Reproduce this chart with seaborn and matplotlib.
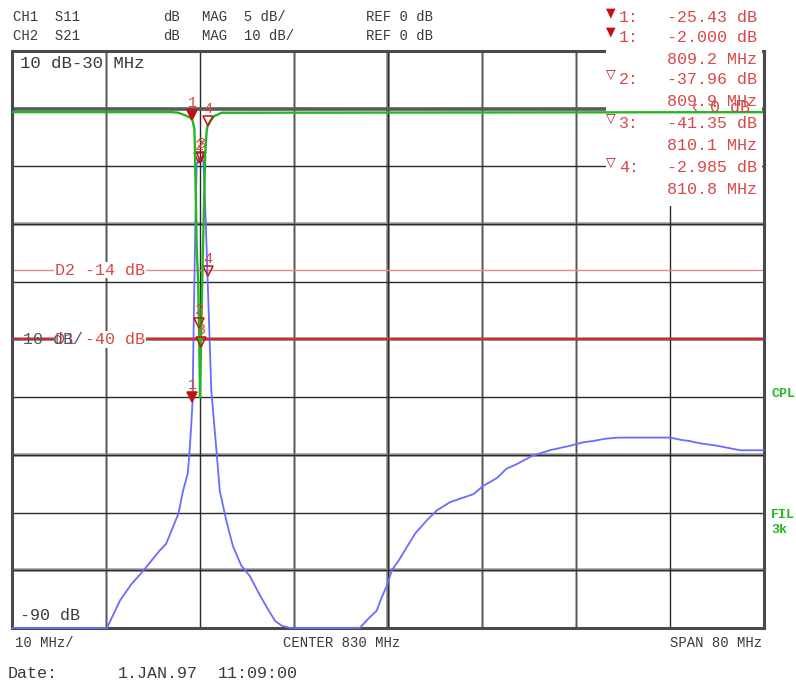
import numpy as np
import pandas as pd
import matplotlib
matplotlib.use("Agg")
import matplotlib.pyplot as plt
import matplotlib.transforms as mtrans
from matplotlib.patches import Rectangle
from matplotlib.lines import Line2D
import seaborn as sns

# ---------------- data ----------------
freq_range = (790.0, 870.0)          # MHz, 10 MHz/div, center 830
ch1_range = (-45.0, 5.0)             # CH1 S11, 5 dB/div, ref 0 dB
ch2_range = (-90.0, 10.0)            # CH2 S21, 10 dB/div, ref 0 dB

s11_freq = [790.0, 800.1, 801.5, 802.7, 803.8, 804.7, 805.7, 806.4, 807.1, 807.7,
            808.2, 808.7, 808.9, 809.1, 809.2, 809.5, 809.65, 810.0, 810.35, 810.5,
            810.8, 811.2, 811.8, 812.1, 812.8, 813.5, 814.4, 815.3, 816.4, 817.1,
            818.0, 818.7, 819.6, 827.0, 827.9, 828.8, 829.3, 829.9, 830.4, 831.1,
            832.0, 832.9, 834.1, 835.2, 836.6, 838.0, 839.1, 840.1, 841.6, 842.6,
            843.7, 845.3, 847.2, 849.4, 850.8, 851.8, 853.1, 854.5, 860.0, 861.2,
            862.1, 863.2, 865.0, 866.2, 867.5, 870.0]
s11_db = [-45.0, -45.0, -42.6, -41.2, -40.2, -39.3, -38.3, -37.7, -36.3, -35.1,
          -33.1, -31.6, -29.6, -27.0, -25.43, -10.0, -4.8, -4.3, -4.5, -7.1,
          -14.5, -24.4, -30.1, -33.1, -35.7, -37.9, -39.6, -40.5, -42.2, -43.2,
          -44.4, -44.8, -45.0, -45.0, -44.2, -43.5, -42.4, -41.3, -40.0, -39.2,
          -38.0, -36.8, -35.7, -34.8, -34.1, -33.7, -33.4, -32.7, -32.0, -31.2,
          -30.8, -30.1, -29.6, -29.2, -28.9, -28.8, -28.6, -28.5, -28.5, -28.7,
          -28.8, -29.0, -29.2, -29.4, -29.6, -29.6]

s21_freq = [790.0, 807.0, 807.7, 808.5, 809.0, 809.2, 809.4, 809.45, 809.55, 809.65,
            809.8, 809.9, 810.0, 810.1, 810.2, 810.3, 810.45, 810.55, 810.7, 810.8,
            811.1, 811.5, 812.3, 870.0]
s21_db = [-0.6, -0.6, -0.7, -1.2, -1.6, -2.0, -3.5, -6.0, -15.0, -24.0,
          -30.0, -37.96, -50.0, -41.35, -33.0, -25.0, -15.0, -8.0, -4.0, -2.985,
          -2.1, -1.3, -0.7, -0.6]

marker_ids = ["1", "2", "3", "4"]
marker_freq = [809.2, 809.9, 810.1, 810.8]
marker_s21 = [-2.000, -37.96, -41.35, -2.985]
marker_s11 = [-25.43, -4.7, -4.6, -14.5]
marker_filled = [True, False, False, False]

d1_level = -40.0   # CH2 display line
d2_level = -14.0   # CH1 display line

header_rows = [["CH1  S11", "dB", "MAG  5 dB/", "REF 0 dB"],
               ["CH2  S21", "dB", "MAG  10 dB/", "REF 0 dB"]]
footer_labels = ["10 MHz/", "CENTER 830 MHz", "SPAN 80 MHz"]
date_labels = ["Date:", "1.JAN.97", "11:09:00"]
side_labels = ["CPL", "FIL", "3k"]

# ---------------- style ----------------
sns.set_style("white")
plt.rcParams['font.family'] = ['Liberation Mono', 'DejaVu Sans Mono', 'DejaVu Sans']

W, H = 796, 680
fig = plt.figure(figsize=(W / 100, H / 100), dpi=100)


def fx(px):
    return px / W


def fy(py):
    return 1 - py / H


TXT = '#3a3a3a'
RED = '#d84848'
MRED = '#c41010'
BLUE = '#6b6bff'
GREEN = '#22b822'

L, R, T, B = 12, 764, 51, 628
ax = fig.add_axes([fx(L), fy(B), (R - L) / W, (B - T) / H])

df11 = pd.DataFrame({"freq": s11_freq, "db": s11_db})
df21 = pd.DataFrame({"freq": s21_freq, "db": s21_db})

sns.lineplot(data=df11, x="freq", y="db", ax=ax, color=BLUE, lw=1.3,
             estimator=None, sort=False, zorder=3)
for ln in ax.get_lines():
    ln.set_clip_on(False)

ax.set_xlim(*freq_range)
ax.set_ylim(*ch1_range)
xt = np.arange(freq_range[0] + 10, freq_range[1], 10)
yt = np.arange(ch1_range[0] + 5, ch1_range[1], 5)
ax.set_xticks(xt)
ax.set_yticks(yt)
ax.grid(False)
ax.tick_params(length=0, labelleft=False, labelbottom=False)
ax.set_xlabel("")
ax.set_ylabel("")
for s in ax.spines.values():
    s.set_color('#4a4a4a')
    s.set_linewidth(2.2)

# graticule with the screen's uneven line weights
for v in xt:
    if v == 830:
        ax.axvline(v, color='#8c8c8c', lw=2.6, zorder=0.5)
        ax.axvline(v, color='#2a2a2a', lw=1.0, zorder=0.6)
    elif v in (810, 860):
        ax.axvline(v, color='#2a2a2a', lw=1.0, zorder=0.6)
    else:
        ax.axvline(v, color='#9a9a9a', lw=1.8, zorder=0.5)
        ax.axvline(v, color='#555555', lw=0.8, zorder=0.6)
for v in yt:
    if v == 0:
        continue
    if v % 10 == 0:
        ax.axhline(v, color='#a0a0a0', lw=2.6, zorder=0.5)
        ax.axhline(v, color='#2a2a2a', lw=1.0, zorder=0.6)
    else:
        ax.axhline(v, color='#2a2a2a', lw=1.0, zorder=0.6)

# reference line (0 dB)
ax.axhline(0, color='#5a5a5a', lw=2.6, zorder=1)

# D2 line on CH1 scale
ax.axhline(d2_level, color='#e08c8c', lw=1.0, zorder=1.5)
ax.text(freq_range[0] + (55 - L) / 9.4, d2_level, f"D2 {d2_level:.0f} dB",
        color=RED, fontsize=12, va='center', ha='left', zorder=4,
        bbox=dict(facecolor='white', edgecolor='none', pad=0.5))

# white readout box
box = Rectangle((fx(606), fy(206)), (762 - 606) / W, 206 / H,
                transform=fig.transFigure, facecolor='white', edgecolor='none',
                zorder=2.7)
ax.add_patch(box)
box.set_clip_on(False)

# second axis: CH2 (10 dB/div)
ax2 = ax.twinx()
sns.lineplot(data=df21, x="freq", y="db", ax=ax2, color=GREEN, lw=1.7,
             estimator=None, sort=False, zorder=3)
ax2.set_ylim(*ch2_range)
ax2.set_xlim(*freq_range)
ax2.grid(False)
ax2.tick_params(length=0, labelright=False)
ax2.set_ylabel("")
ax2.set_xlabel("")
for s in ax2.spines.values():
    s.set_visible(False)

ax2.axhline(d1_level, color='#d42a2a', lw=1.6, zorder=2)
ax2.text(freq_range[0] + (55 - L) / 9.4, d1_level, f"D1 {d1_level:.0f} dB",
         color=RED, fontsize=12, va='center', ha='left', zorder=4,
         bbox=dict(facecolor='white', edgecolor='none', pad=0.5))
ax2.text(freq_range[0] + (13 - L) / 9.4, d1_level, "-10 dB/",
         color='#4d5870', fontsize=12, va='center', ha='left', zorder=5)

# markers
def draw_markers(a, values):
    tr = mtrans.offset_copy(a.transData, fig=fig, x=0, y=3.5, units='points')
    for mid, f, v, filled in zip(marker_ids, marker_freq, values, marker_filled):
        a.plot([f], [v], marker='v', ms=7, ls='none',
               mfc=MRED if filled else 'none', mec=MRED, mew=1.1,
               transform=tr, zorder=6, clip_on=False)
        a.annotate(mid, (f, v), xytext=(0, 7.5), textcoords='offset points',
                   ha='center', va='bottom', color=RED, fontsize=11, zorder=6)


draw_markers(ax, marker_s11)
draw_markers(ax2, marker_s21)

# right border piece over the readout box
fig.add_artist(Line2D([fx(R), fx(R)], [fy(T), fy(215)], color='#4a4a4a', lw=2.2))

# ---------------- texts ----------------
def ftext(px, py, s, **kw):
    kw.setdefault('va', 'center')
    kw.setdefault('ha', 'left')
    fig.text(fx(px), fy(py), s, **kw)


header_x = [13, 163, 202, 366]
for row, py in zip(header_rows, [17, 36]):
    for s, px in zip(row, header_x):
        ftext(px, py, s, fontsize=10, color=TXT)

ftext(20, 63, "10 dB-30 MHz", fontsize=12.5, color=TXT)
ftext(20, 616, "-90 dB", fontsize=12, color=TXT)

for s, px in zip(footer_labels, [15, 283, 670]):
    ftext(px, 643, s, fontsize=10, color=TXT)
for s, px in zip(date_labels, [8, 118, 218]):
    ftext(px, 674, s, fontsize=12, color=TXT)

for s, py in zip(side_labels, [394, 515, 530]):
    ftext(771, py, s, fontsize=9.5, color=GREEN, fontweight='bold')

# marker readout
readout = [("▼", "1:", f"{marker_s11[0]:.2f} dB", 18)]
row_y = [37, 80, 124, 168]
for i, (mid, f, v, filled) in enumerate(zip(marker_ids, marker_freq, marker_s21, marker_filled)):
    val = f"{v:.3f} dB" if abs(v) < 10 else f"{v:.2f} dB"
    readout.append(("▼" if filled else "▽", mid + ":", val, row_y[i]))
    readout.append(("", "", f"{f:.1f} MHz", row_y[i] + 22))
for tri, lab, val, py in readout:
    if tri:
        ftext(611, py - 5, tri, fontsize=9, color=MRED, ha='center',
              family=['DejaVu Sans'])
        ftext(619, py, lab, fontsize=12, color=RED)
    ftext(667, py, val, fontsize=12, color=RED)

ftext(690, 108, "‹ 0 dB", fontsize=12, color=RED,
      family=['Liberation Mono', 'DejaVu Sans'])

fig.savefig("out.png", dpi=100, facecolor='white')
